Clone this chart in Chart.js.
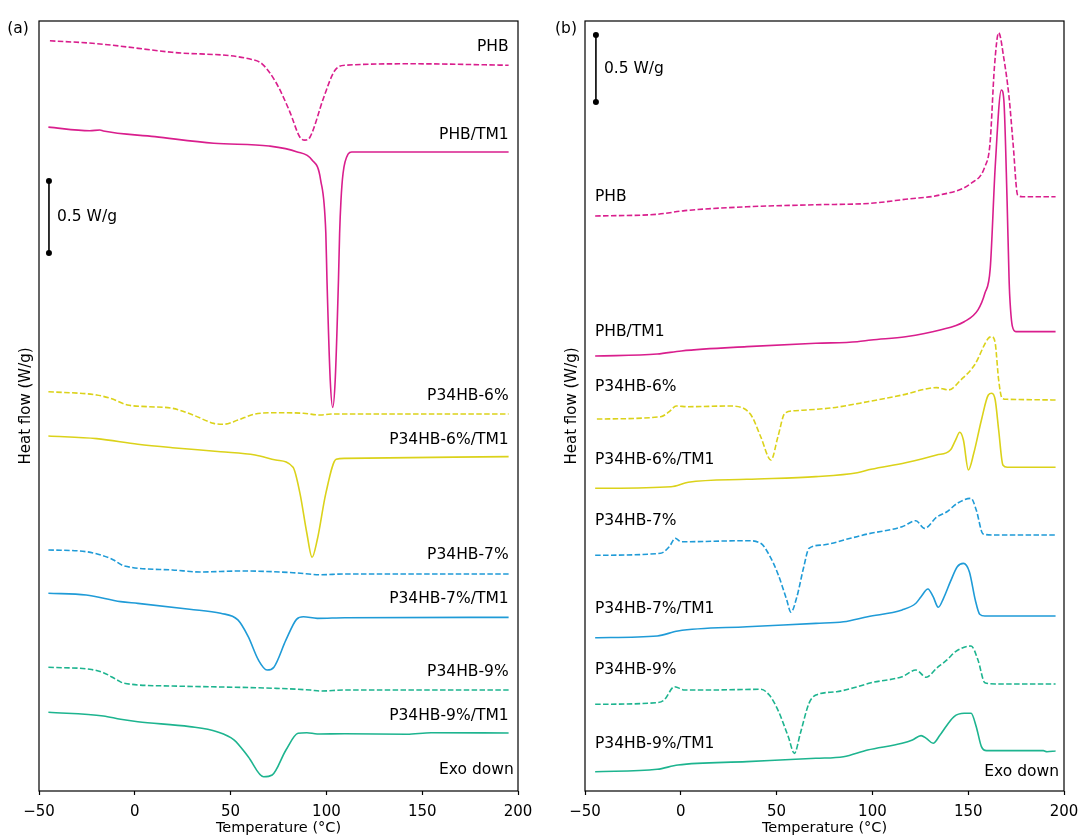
<!DOCTYPE html>
<html>
<head>
<meta charset="utf-8">
<script src="https://cdn.jsdelivr.net/npm/chart.js@4.4.1/dist/chart.umd.min.js"></script>
<style>
  html, body { margin: 0; background: #fff; overflow: hidden; }
  #wrap { position: relative; width: 1081px; height: 837px; overflow: hidden; }
  canvas { position: absolute; top: 0; }
  #chartA { left: 0; }
  #chartB { left: 546px; }
</style>
</head>
<body>
<div id="wrap">
  <canvas id="chartA" width="546" height="837"></canvas>
  <canvas id="chartB" width="541" height="837"></canvas>
</div>
<script>
// DSC curves, [temperature (°C), heat flow (W/g, stacked offset)]
// panel (a): cooling / crystallisation
const phbA = [[-44.3, 5.21], [-20, 5.19], [19.4, 5.13], [61, 5.08], [66.4, 5.05], [73.7, 4.92], [80.8, 4.72], [86.2, 4.54], [88.8, 4.52], [91.4, 4.54], [98.7, 4.82], [104.2, 5.0], [109.7, 5.04], [145.6, 5.05], [195.1, 5.04]];
const phbTm1A = [[-45.1, 4.61], [-23.5, 4.585], [-18.2, 4.59], [-16.4, 4.583], [10.5, 4.544], [41.2, 4.498], [70, 4.479], [84.4, 4.44], [92.5, 4.382], [97, 4.243], [99.7, 3.873], [100.3, 3.549], [102, 2.854], [103.3, 2.664], [104.6, 2.854], [106.3, 3.549], [106.9, 3.873], [107.6, 4.1], [108.7, 4.29], [111.4, 4.424], [113.2, 4.438], [195.1, 4.438]];
const p6A = [[-45.1, 2.773], [-19.9, 2.75], [-12.8, 2.727], [-3.8, 2.681], [7, 2.669], [19.6, 2.658], [30.4, 2.611], [41.2, 2.553], [46.6, 2.547], [53.8, 2.576], [62.8, 2.618], [73.6, 2.627], [88, 2.623], [97, 2.611], [102.4, 2.618], [195.1, 2.618]];
const p6Tm1A = [[-45.1, 2.465], [-19.9, 2.447], [1.6, 2.408], [19.6, 2.384], [44.8, 2.356], [62.8, 2.333], [73.6, 2.299], [82.6, 2.248], [86.2, 2.067], [89.8, 1.79], [92.5, 1.623], [95.2, 1.743], [99.7, 2.067], [105.1, 2.303], [109.6, 2.31], [195.1, 2.322]];
const p7A = [[-45.1, 1.674], [-25.4, 1.662], [-12.8, 1.616], [-11, 1.604], [-5.6, 1.563], [19.6, 1.535], [34, 1.521], [55.6, 1.528], [82.6, 1.516], [97, 1.502], [109.6, 1.507], [195.1, 1.507]];
const p7Tm1A = [[-45.1, 1.373], [-25.4, 1.361], [-7.4, 1.315], [1.6, 1.303], [28.6, 1.262], [44.8, 1.234], [53.8, 1.188], [59.2, 1.072], [64.5, 0.91], [69, 0.84], [72.6, 0.86], [78.9, 1.049], [84.4, 1.192], [88, 1.21], [95.2, 1.199], [109.6, 1.203], [195.1, 1.206]];
const p9A = [[-45.1, 0.859], [-23.5, 0.845], [-16.4, 0.822], [-9.2, 0.771], [-5.6, 0.748], [19.6, 0.729], [73.6, 0.713], [91.6, 0.701], [97, 0.694], [109.6, 0.701], [195.1, 0.701]];
const p9Tm1A = [[-45.1, 0.547], [-16.4, 0.521], [-7.4, 0.498], [1.6, 0.481], [28.6, 0.447], [42.9, 0.412], [51.9, 0.354], [59.2, 0.238], [67.2, 0.099], [71.7, 0.111], [78.9, 0.285], [85.2, 0.401], [89.8, 0.405], [95.2, 0.396], [109.6, 0.398], [142, 0.394], [154.6, 0.405], [195.1, 0.403]];

// panel (b): second heating / melting
const phbB = [[-44.7, 4.291], [-12.3, 4.304], [2.1, 4.331], [34.5, 4.36], [70.5, 4.375], [99.3, 4.386], [117.3, 4.416], [135.3, 4.448], [151.5, 4.535], [158.7, 4.659], [161.4, 4.834], [163.7, 5.405], [165.9, 5.659], [168.6, 5.468], [171.3, 5.181], [173.4, 4.836], [175.8, 4.448], [178.5, 4.435], [195.6, 4.435]];
const phbTm1B = [[-44.7, 3.246], [-12.3, 3.261], [0.3, 3.284], [34.5, 3.316], [70.5, 3.341], [92.1, 3.353], [99.3, 3.366], [117.3, 3.39], [135.3, 3.44], [147.9, 3.502], [155.1, 3.59], [158.7, 3.714], [161.5, 3.9], [164.1, 4.659], [167.3, 5.231], [168.6, 5.157], [170.3, 4.403], [171.3, 3.838], [171.7, 3.689], [173.1, 3.465], [174.9, 3.428], [195.6, 3.428]];
const p6B = [[-43.8, 2.776], [-10.5, 2.793], [-6, 2.831], [-2.4, 2.873], [3.9, 2.868], [25.5, 2.873], [32.7, 2.856], [37.2, 2.793], [41.7, 2.644], [47.1, 2.47], [50.7, 2.644], [54.3, 2.819], [59.7, 2.838], [79.1, 2.86], [97.5, 2.905], [115.5, 2.955], [133.5, 3.01], [139.8, 2.993], [146.1, 3.067], [153.3, 3.179], [160.5, 3.378], [162.3, 3.39], [164.1, 3.341], [165.9, 3.067], [167.7, 2.931], [170.4, 2.923], [195.6, 2.918]];
const p6Tm1B = [[-44.7, 2.259], [-5.1, 2.271], [3.9, 2.304], [34.5, 2.326], [70.5, 2.346], [92.1, 2.375], [99.3, 2.401], [117.3, 2.45], [133.5, 2.507], [140.7, 2.545], [143.4, 2.619], [145.6, 2.677], [147.5, 2.619], [150.1, 2.396], [152.9, 2.52], [156.9, 2.769], [160.5, 2.955], [162.3, 2.968], [164.1, 2.918], [165.9, 2.694], [168.1, 2.433], [170.4, 2.416], [195.6, 2.416]];
const p7B = [[-44.7, 1.759], [-10.5, 1.774], [-6, 1.823], [-2.9, 1.886], [0.3, 1.86], [34.5, 1.868], [41.7, 1.849], [46.2, 1.76], [50.7, 1.62], [55.2, 1.43], [57.5, 1.334], [60.6, 1.45], [64.2, 1.674], [66.9, 1.811], [74.1, 1.836], [88.5, 1.886], [97.5, 1.918], [115.5, 1.972], [122.7, 2.017], [127.2, 1.96], [133.5, 2.043], [138.9, 2.084], [144.3, 2.147], [151.5, 2.184], [154.2, 2.097], [157.8, 1.918], [164.1, 1.91], [195.6, 1.91]];
const p7Tm1B = [[-44.7, 1.144], [-12.3, 1.157], [-1.5, 1.194], [34.5, 1.226], [70.5, 1.251], [84.9, 1.263], [97.5, 1.301], [115.5, 1.351], [122.7, 1.401], [125.4, 1.45], [129, 1.507], [131.7, 1.45], [134.4, 1.371], [137.1, 1.438], [140.7, 1.562], [144.3, 1.674], [147.5, 1.699], [150.6, 1.637], [153.7, 1.425], [156, 1.319], [158.7, 1.306], [195.6, 1.306]];
const p9B = [[-44.7, 0.647], [-12.3, 0.659], [-8.7, 0.679], [-3.3, 0.778], [2.1, 0.754], [16.5, 0.754], [41.7, 0.759], [46.2, 0.716], [50.7, 0.604], [56.1, 0.405], [59.3, 0.281], [62.4, 0.431], [66.9, 0.654], [70.5, 0.716], [81.3, 0.741], [92.1, 0.778], [99.3, 0.808], [115.5, 0.853], [122.7, 0.903], [128.1, 0.849], [133.5, 0.916], [138.9, 0.978], [143.4, 1.04], [151.5, 1.082], [155.1, 0.978], [158.7, 0.808], [164.1, 0.799], [195.6, 0.799]];
const p9Tm1B = [[-44.7, 0.144], [-12.3, 0.162], [-1.5, 0.194], [34.5, 0.219], [70.5, 0.244], [84.9, 0.256], [97.5, 0.306], [115.5, 0.356], [120.9, 0.381], [125.4, 0.413], [128.1, 0.393], [131.7, 0.356], [135.3, 0.418], [142.5, 0.554], [147.9, 0.58], [151.5, 0.58], [154.2, 0.48], [156.9, 0.331], [159.6, 0.301], [189.2, 0.301], [191.1, 0.293], [195.6, 0.299]];

// 0.5 W/g scale bars
const scaleBarA = [[-44.8, 4.236], [-44.8, 3.736]];
const scaleBarB = [[-44.3, 5.642], [-44.3, 5.142]];

// curve names and where they are written (temperature, heat flow)
const sampleNames = ['PHB', 'PHB/TM1', 'P34HB-6%', 'P34HB-6%/TM1', 'P34HB-7%', 'P34HB-7%/TM1', 'P34HB-9%', 'P34HB-9%/TM1'];
const nameYA = [5.165, 4.556, 2.743, 2.438, 1.639, 1.333, 0.824, 0.523];
const nameYB = [4.435, 3.428, 3.017, 2.470, 2.017, 1.358, 0.903, 0.351];

const xTicks = [-50, 0, 50, 100, 150, 200];

const FONT = '"DejaVu Sans", sans-serif';
const PINK = '#d91e8d';
const YELLOW = '#dbd21a';
const BLUE = '#1f9bd7';
const TEAL = '#1db48f';

const notesPlugin = {
  id: 'notes',
  afterDraw(chart, args, o) {
    const { ctx, chartArea: a, scales: { x, y } } = chart;
    ctx.save();
    ctx.strokeStyle = '#000';
    ctx.lineWidth = 1.2;
    ctx.strokeRect(a.left, a.top, a.right - a.left, a.bottom - a.top);
    ctx.fillStyle = '#000';
    ctx.font = '15.5px ' + FONT;
    ctx.textBaseline = 'middle';
    ctx.textAlign = o.align;
    o.names.forEach(function (n, i) {
      ctx.fillText(n, x.getPixelForValue(o.nameX), y.getPixelForValue(o.nameY[i]));
    });
    ctx.textAlign = 'right';
    ctx.fillText('Exo down', x.getPixelForValue(o.exo[0]), y.getPixelForValue(o.exo[1]));
    ctx.textAlign = 'left';
    ctx.fillText('0.5 W/g', x.getPixelForValue(o.bar[0]), y.getPixelForValue(o.bar[1]));
    ctx.textAlign = 'center';
    ctx.fillText(o.panel, o.panelPos[0], o.panelPos[1]);
    ctx.restore();
  }
};

function line(data, color, dashed) {
  return {
    data: data.map(function (p) { return { x: p[0], y: p[1] }; }),
    borderColor: color,
    borderWidth: 1.6,
    borderDash: dashed ? [5.5, 2.4] : [],
    pointRadius: 0,
    cubicInterpolationMode: 'monotone',
    fill: false
  };
}

function bar(data) {
  return {
    data: data.map(function (p) { return { x: p[0], y: p[1] }; }),
    borderColor: '#000',
    borderWidth: 1.6,
    pointRadius: 3,
    pointBackgroundColor: '#000',
    pointBorderWidth: 0,
    tension: 0,
    fill: false
  };
}

function makePanel(id, datasets, yMax, rightPad, notes) {
  return new Chart(document.getElementById(id), {
    type: 'line',
    data: { datasets: datasets },
    plugins: [notesPlugin],
    options: {
      responsive: false,
      animation: false,
      devicePixelRatio: 1,
      layout: { padding: { left: 17, right: rightPad, top: 21, bottom: 0 } },
      plugins: { legend: { display: false }, tooltip: { enabled: false }, notes: notes },
      scales: {
        x: {
          type: 'linear', min: xTicks[0], max: xTicks[xTicks.length - 1],
          afterBuildTicks: function (s) { s.ticks = xTicks.map(function (v) { return { value: v }; }); },
          ticks: {
            color: '#000', padding: 8, maxRotation: 0, autoSkip: false,
            font: { family: FONT, size: 15 },
            callback: function (v) { return v < 0 ? '\u2212' + Math.abs(v) : String(v); }
          },
          grid: { drawOnChartArea: false, tickLength: 4, tickColor: '#000', tickWidth: 1.2 },
          border: { display: false },
          title: { display: true, text: 'Temperature (°C)', color: '#000', font: { family: FONT, size: 14.5 }, padding: { top: 0, bottom: 0 } },
          afterFit: function (s) { s.height = 46; }
        },
        y: {
          min: 0, max: yMax,
          ticks: { display: false },
          grid: { display: false },
          border: { display: false },
          title: { display: true, text: 'Heat flow (W/g)', color: '#000', font: { family: FONT, size: 15 }, padding: 0 },
          afterFit: function (s) { s.width = 22; }
        }
      }
    }
  });
}

makePanel('chartA', [
  line(phbA, PINK, true), line(phbTm1A, PINK, false),
  line(p6A, YELLOW, true), line(p6Tm1A, YELLOW, false),
  line(p7A, BLUE, true), line(p7Tm1A, BLUE, false),
  line(p9A, TEAL, true), line(p9Tm1A, TEAL, false),
  bar(scaleBarA)
], 770 / 144, 28, {
  align: 'right', names: sampleNames, nameX: 195.1, nameY: nameYA,
  exo: [197.8, 0.146], bar: [-40.6, 3.986], panel: '(a)', panelPos: [18, 29]
});

makePanel('chartB', [
  line(phbB, PINK, true), line(phbTm1B, PINK, false),
  line(p6B, YELLOW, true), line(p6Tm1B, YELLOW, false),
  line(p7B, BLUE, true), line(p7Tm1B, BLUE, false),
  line(p9B, TEAL, true), line(p9Tm1B, TEAL, false),
  bar(scaleBarB)
], 770 / 134, 23, {
  align: 'left', names: sampleNames, nameX: -44.8, nameY: nameYB,
  exo: [197.4, 0.144], bar: [-40.1, 5.392], panel: '(b)', panelPos: [20, 29]
});
</script>
</body>
</html>
